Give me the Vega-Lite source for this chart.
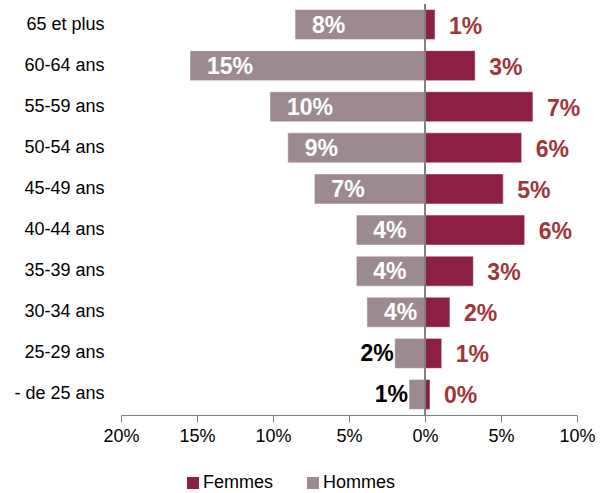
{
  "$schema": "https://vega.github.io/schema/vega-lite/v6.json",
  "width": 456,
  "height": 411,
  "autosize": {"type": "none"},
  "padding": {"left": 121, "top": 4, "right": 25, "bottom": 78},
  "config": {"font": "Liberation Sans", "view": {"stroke": null}},
  "data": {
    "values": [
      {"age": "65 et plus", "sexe": "Hommes", "value": -8.55, "label": "8%"},
      {"age": "60-64 ans", "sexe": "Hommes", "value": -15.46, "label": "15%"},
      {"age": "55-59 ans", "sexe": "Hommes", "value": -10.2, "label": "10%"},
      {"age": "50-54 ans", "sexe": "Hommes", "value": -9.03, "label": "9%"},
      {"age": "45-49 ans", "sexe": "Hommes", "value": -7.28, "label": "7%"},
      {"age": "40-44 ans", "sexe": "Hommes", "value": -4.52, "label": "4%"},
      {"age": "35-39 ans", "sexe": "Hommes", "value": -4.52, "label": "4%"},
      {"age": "30-34 ans", "sexe": "Hommes", "value": -3.82, "label": "4%"},
      {"age": "25-29 ans", "sexe": "Hommes", "value": -1.99, "label": "2%"},
      {"age": "- de 25 ans", "sexe": "Hommes", "value": -1.05, "label": "1%"},
      {"age": "65 et plus", "sexe": "Femmes", "value": 0.66, "label": "1%"},
      {"age": "60-64 ans", "sexe": "Femmes", "value": 3.3, "label": "3%"},
      {"age": "55-59 ans", "sexe": "Femmes", "value": 7.1, "label": "7%"},
      {"age": "50-54 ans", "sexe": "Femmes", "value": 6.36, "label": "6%"},
      {"age": "45-49 ans", "sexe": "Femmes", "value": 5.15, "label": "5%"},
      {"age": "40-44 ans", "sexe": "Femmes", "value": 6.56, "label": "6%"},
      {"age": "35-39 ans", "sexe": "Femmes", "value": 3.18, "label": "3%"},
      {"age": "30-34 ans", "sexe": "Femmes", "value": 1.64, "label": "2%"},
      {"age": "25-29 ans", "sexe": "Femmes", "value": 1.1, "label": "1%"},
      {"age": "- de 25 ans", "sexe": "Femmes", "value": 0.33, "label": "0%"}
    ]
  },
  "layer": [
    {
      "mark": {"type": "bar", "stroke": "#ffffff", "strokeWidth": 1, "strokeOpacity": 0.5},
      "encoding": {
        "y": {
          "field": "age", "type": "nominal",
          "sort": ["65 et plus", "60-64 ans", "55-59 ans", "50-54 ans", "45-49 ans", "40-44 ans", "35-39 ans", "30-34 ans", "25-29 ans", "- de 25 ans"],
          "scale": {"paddingInner": 0.27, "paddingOuter": 0.135},
          "axis": {"title": null, "domain": false, "ticks": false, "labelFontSize": 18, "labelPadding": 17, "labelColor": "#000000"}
        },
        "x": {
          "field": "value", "type": "quantitative",
          "scale": {"domain": [-20, 10], "nice": false},
          "axis": {
            "title": null, "grid": false, "values": [-20, -15, -10, -5, 0, 5, 10],
            "labelExpr": "abs(datum.value) + '%'", "labelFlush": false, "labelOverlap": false,
            "domainColor": "#808080", "tickColor": "#808080", "tickSize": 7,
            "labelFontSize": 18, "labelColor": "#000000", "labelPadding": 5
          }
        },
        "color": {
          "field": "sexe", "type": "nominal",
          "scale": {"domain": ["Femmes", "Hommes"], "range": ["#8c1f42", "#9d8a91"]},
          "legend": {
            "title": null, "orient": "none", "legendX": 63, "legendY": 470,
            "direction": "horizontal", "symbolType": "square", "symbolSize": 144,
            "symbolStrokeWidth": 0, "labelFontSize": 18, "labelColor": "#000000",
            "columnPadding": 30, "labelOffset": 1
          }
        }
      }
    },
    {
      "mark": {"type": "rule", "color": "#808080", "strokeWidth": 1},
      "encoding": {"x": {"datum": 0, "type": "quantitative"}}
    },
    {
      "transform": [{"filter": "datum.sexe == 'Hommes' && datum.value < -3"}],
      "mark": {"type": "text", "align": "left", "baseline": "middle", "dx": 17, "dy": 1, "fontSize": 23, "fontWeight": "bold", "color": "#ffffff"},
      "encoding": {
        "y": {"field": "age", "type": "nominal", "sort": ["65 et plus", "60-64 ans", "55-59 ans", "50-54 ans", "45-49 ans", "40-44 ans", "35-39 ans", "30-34 ans", "25-29 ans", "- de 25 ans"]},
        "x": {"field": "value", "type": "quantitative"},
        "text": {"field": "label"}
      }
    },
    {
      "transform": [{"filter": "datum.sexe == 'Hommes' && datum.value >= -3"}],
      "mark": {"type": "text", "align": "right", "baseline": "middle", "dx": -1, "dy": 1, "fontSize": 23, "fontWeight": "bold", "color": "#000000"},
      "encoding": {
        "y": {"field": "age", "type": "nominal", "sort": ["65 et plus", "60-64 ans", "55-59 ans", "50-54 ans", "45-49 ans", "40-44 ans", "35-39 ans", "30-34 ans", "25-29 ans", "- de 25 ans"]},
        "x": {"field": "value", "type": "quantitative"},
        "text": {"field": "label"}
      }
    },
    {
      "transform": [{"filter": "datum.sexe == 'Femmes'"}],
      "mark": {"type": "text", "align": "left", "baseline": "middle", "dx": 14, "dy": 2, "fontSize": 23, "fontWeight": "bold", "color": "#a0353a"},
      "encoding": {
        "y": {"field": "age", "type": "nominal", "sort": ["65 et plus", "60-64 ans", "55-59 ans", "50-54 ans", "45-49 ans", "40-44 ans", "35-39 ans", "30-34 ans", "25-29 ans", "- de 25 ans"]},
        "x": {"field": "value", "type": "quantitative"},
        "text": {"field": "label"}
      }
    }
  ]
}
